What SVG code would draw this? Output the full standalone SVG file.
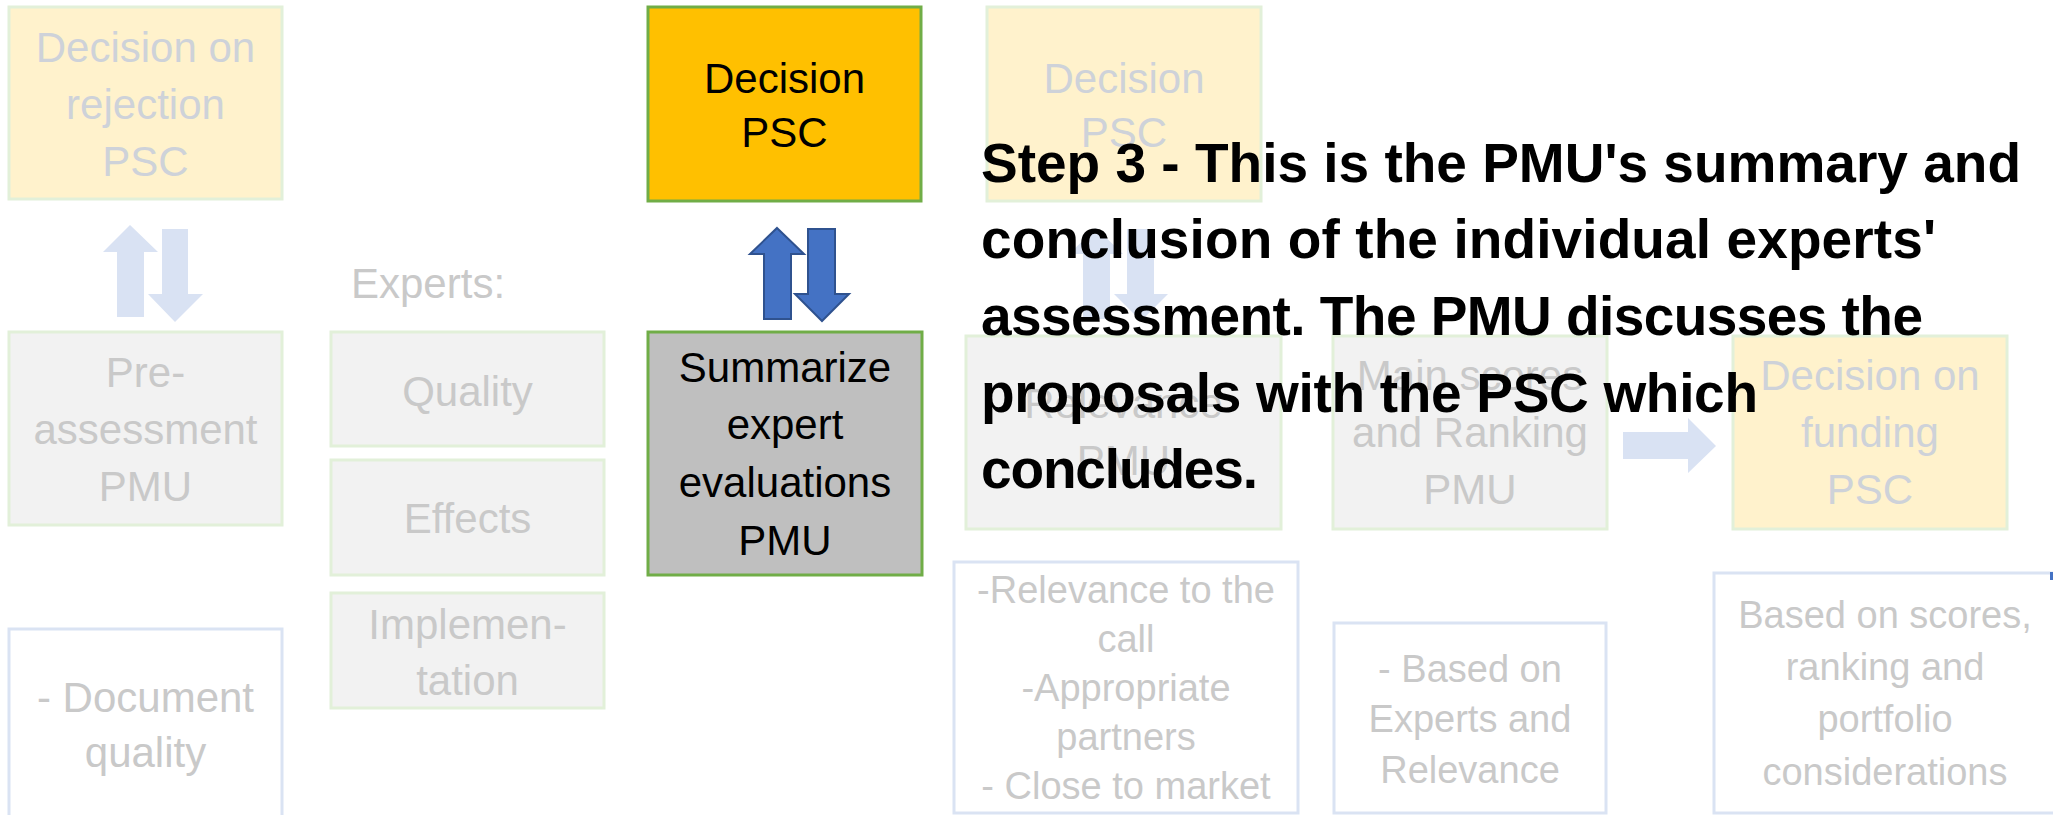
<svg xmlns="http://www.w3.org/2000/svg" width="2053" height="815" viewBox="0 0 2053 815">
<style>
.bx{stroke-width:3}
.yf{fill:#FFF2CC;stroke:#E2F0D9}
.gf{fill:#F2F2F2;stroke:#E2F0D9}
.bo{fill:#FFFFFF;stroke:#DAE3F3}
.t{font-family:"Liberation Sans",Arial,sans-serif;font-size:42px;text-anchor:middle}
.s{font-family:"Liberation Sans",Arial,sans-serif;font-size:38px;text-anchor:middle;fill:#C9C9C9}
.fg{fill:#C9C9C9}
.fy{fill:#CED2D9}
.k{fill:#000000}
.fa{fill:#D9E2F3}
.ba{fill:#4472C4;stroke:#2F528F;stroke-width:2}
.h{font-family:"Liberation Sans",Arial,sans-serif;font-size:55px;font-weight:bold;fill:#000000}
</style>
<rect width="2053" height="815" fill="#FFFFFF"/>

<g id="rejection">
<rect class="bx yf" x="9" y="7" width="273" height="192"/>
<text class="t fy"><tspan x="145.5" y="62">Decision on</tspan><tspan x="145.5" y="119">rejection</tspan><tspan x="145.5" y="176">PSC</tspan></text>
</g>

<g id="preassessment">
<rect class="bx gf" x="9" y="332" width="273" height="193"/>
<text class="t fg"><tspan x="145.5" y="387">Pre-</tspan><tspan x="145.5" y="444">assessment</tspan><tspan x="145.5" y="501">PMU</tspan></text>
</g>

<g id="docquality">
<rect class="bx bo" x="9" y="629" width="273" height="190"/>
<text class="t fg"><tspan x="145.5" y="712">- Document</tspan><tspan x="145.5" y="767">quality</tspan></text>
</g>

<g id="experts-label">
<text class="t fg" x="351" y="298" style="text-anchor:start">Experts:</text>
</g>

<g id="quality">
<rect class="bx gf" x="331" y="332" width="273" height="114"/>
<text class="t fg" x="467.5" y="406">Quality</text>
</g>

<g id="effects">
<rect class="bx gf" x="331" y="460" width="273" height="115"/>
<text class="t fg" x="467.5" y="533">Effects</text>
</g>

<g id="implementation">
<rect class="bx gf" x="331" y="593" width="273" height="115"/>
<text class="t fg"><tspan x="467.5" y="639">Implemen-</tspan><tspan x="467.5" y="695">tation</tspan></text>
</g>

<g id="decision-psc">
<rect x="648" y="7" width="273" height="194" fill="#FFC000" stroke="#70AD47" stroke-width="3"/>
<text class="t k"><tspan x="784.5" y="93">Decision</tspan><tspan x="784.5" y="147">PSC</tspan></text>
</g>

<g id="summarize">
<rect x="648" y="332" width="274" height="243" fill="#BFBFBF" stroke="#70AD47" stroke-width="3"/>
<text class="t k"><tspan x="785" y="382">Summarize</tspan><tspan x="785" y="439">expert</tspan><tspan x="785" y="497">evaluations</tspan><tspan x="785" y="555">PMU</tspan></text>
</g>

<g id="decision-psc-2">
<rect class="bx yf" x="987" y="7" width="274" height="194"/>
<text class="t fy"><tspan x="1124" y="93">Decision</tspan><tspan x="1124" y="147">PSC</tspan></text>
</g>

<g id="relevance">
<rect class="bx gf" x="966" y="336" width="315" height="193"/>
<text class="t fg"><tspan x="1123.5" y="418">Relevance</tspan><tspan x="1123.5" y="475">PMU</tspan></text>
</g>

<g id="ranking">
<rect class="bx gf" x="1333" y="336" width="274" height="193"/>
<text class="t fg"><tspan x="1470" y="390">Main scores</tspan><tspan x="1470" y="447">and Ranking</tspan><tspan x="1470" y="504">PMU</tspan></text>
</g>

<g id="funding">
<rect class="bx yf" x="1733" y="336" width="274" height="193"/>
<text class="t fy"><tspan x="1870" y="390">Decision on</tspan><tspan x="1870" y="447">funding</tspan><tspan x="1870" y="504">PSC</tspan></text>
</g>

<g id="relevance-criteria">
<rect class="bx bo" x="954" y="562" width="344" height="251"/>
<text class="s"><tspan x="1126" y="603">-Relevance to the</tspan><tspan x="1126" y="652">call</tspan><tspan x="1126" y="701">-Appropriate</tspan><tspan x="1126" y="750">partners</tspan><tspan x="1126" y="799">- Close to market</tspan></text>
</g>

<g id="ranking-criteria">
<rect class="bx bo" x="1334" y="623" width="272" height="190"/>
<text class="s"><tspan x="1470" y="682">- Based on</tspan><tspan x="1470" y="732">Experts and</tspan><tspan x="1470" y="783">Relevance</tspan></text>
</g>

<g id="funding-criteria">
<rect class="bx bo" x="1714" y="573" width="345" height="240"/>
<rect x="2050" y="572" width="3" height="8" fill="#4472C4"/>
<text class="s"><tspan x="1885" y="628">Based on scores,</tspan><tspan x="1885" y="680">ranking and</tspan><tspan x="1885" y="732">portfolio</tspan><tspan x="1885" y="785">considerations</tspan></text>
</g>

<g id="connectors">
<polygon class="fa" points="130,225 158,252 144,252 144,317 117,317 117,252 103,252"/>
<polygon class="fa" points="162,229 188,229 188,294 203,294 175,322 148,294 162,294"/>
<polygon class="ba" points="777,228 804,254 791,254 791,319 764,319 764,254 750,254"/>
<polygon class="ba" points="808,229 835,229 835,294 849,294 822,321 795,294 808,294"/>
<polygon class="fa" points="1096,228 1123,254 1110,254 1110,319 1083,319 1083,254 1069,254"/>
<polygon class="fa" points="1127,229 1154,229 1154,294 1168,294 1141,321 1114,294 1127,294"/>
<polygon class="fa" points="1623,432 1688,432 1688,418 1716,446 1688,473 1688,459 1623,459"/>
</g>

<g id="step3-note">
<text class="h"><tspan x="981" y="182" textLength="1040" lengthAdjust="spacing">Step 3 - This is the PMU's summary and</tspan><tspan x="981" y="258" textLength="955" lengthAdjust="spacing">conclusion of the individual experts'</tspan><tspan x="981" y="335" textLength="942" lengthAdjust="spacing">assessment. The PMU discusses the</tspan><tspan x="981" y="412" textLength="777" lengthAdjust="spacing">proposals with the PSC which</tspan><tspan x="981" y="488" textLength="277" lengthAdjust="spacing">concludes.</tspan></text>
</g>
</svg>
